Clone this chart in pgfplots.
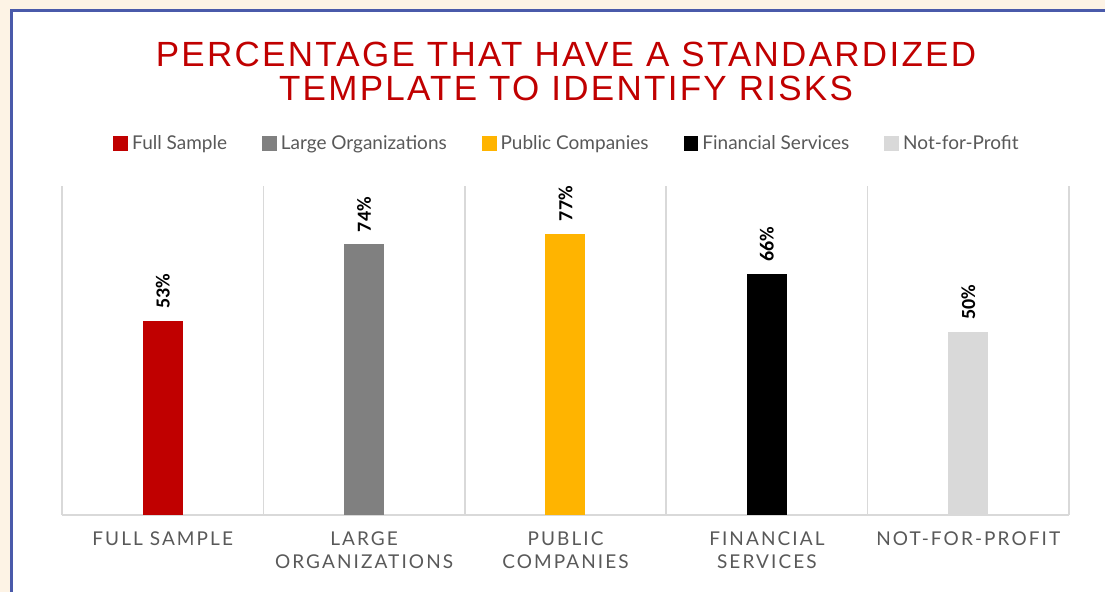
\documentclass[border=0pt]{standalone}
\usepackage{fontspec}
\setmainfont{Lato}
\newfontfamily\titlefont[LetterSpace=6.5]{Liberation Sans}
\newfontfamily\tickfont[LetterSpace=11]{Lato}
\newfontfamily\valfont{Carlito}
\usepackage{pgfplots}
\pgfplotsset{compat=1.18}

\definecolor{fsred}{HTML}{C00000}
\definecolor{lggray}{HTML}{808080}
\definecolor{pcgold}{HTML}{FFB400}
\definecolor{npgray}{HTML}{D9D9D9}
\definecolor{gridgray}{HTML}{D9D9D9}
\definecolor{txtgray}{HTML}{595959}
\definecolor{frameblue}{HTML}{4A5AAA}
\definecolor{bgpeach}{RGB}{253,243,229}

\begin{document}
\begin{tikzpicture}
% page is 1105 x 592 px, 1 px = 0.5 pt, origin top left
\clip (0,0) rectangle (552.5pt,-296pt);
\fill[bgpeach] (0,0) rectangle (552.5pt,-296pt);
\fill[white] (5.5pt,-5.5pt) rectangle (560pt,-300pt);
\draw[frameblue, line width=1.5pt] (5.5pt,-300pt) -- (5.5pt,-5.5pt) -- (560pt,-5.5pt);

\node[anchor=base, text=fsred, font=\titlefont\fontsize{17.5}{20}\selectfont]
  at (283pt,-33.5pt) {PERCENTAGE THAT HAVE A STANDARDIZED};
\node[anchor=base, text=fsred, font=\titlefont\fontsize{17.5}{20}\selectfont]
  at (283pt,-50.5pt) {TEMPLATE TO IDENTIFY RISKS};

\begin{axis}[
  at={(31pt,-257.5pt)}, anchor=south west,
  width=503.5pt, height=164.5pt, scale only axis,
  ybar, bar width=20pt, bar shift=0pt,
  xmin=-0.5, xmax=4.5, ymin=0, ymax=90,
  axis x line*=bottom, hide y axis,
  axis line style={draw=gridgray, line width=0.75pt},
  xtick={0,1,2,3,4},
  xticklabels={FULL SAMPLE,{LARGE\\ORGANIZATIONS},{PUBLIC\\COMPANIES},{FINANCIAL\\SERVICES},NOT-FOR-PROFIT},
  xticklabel style={align=center, text=txtgray, font=\tickfont\fontsize{9.5}{11.5}\selectfont, yshift=-5pt},
  major tick length=0pt,
  minor xtick={-0.5,0.5,1.5,2.5,3.5,4.5},
  xminorgrids, minor tick length=0pt,
  minor grid style={draw=gridgray, line width=0.75pt},
  nodes near coords={\pgfmathprintnumber[assume math mode=true]{\pgfplotspointmeta}\%},
  every node near coord/.append style={rotate=90, anchor=west, inner xsep=6pt,
    text=black, font=\valfont\bfseries\fontsize{10}{12}\selectfont},
  legend columns=5,
  legend style={at={(0.5025,1.128)}, anchor=center, draw=none, fill=none,
    font=\fontsize{9.5}{12}\selectfont, text=txtgray,
    /tikz/every even column/.append style={column sep=15.5pt},
    inner sep=0pt},
  sq/.style={legend image code/.code={\fill[##1] (0pt,-3.7pt) rectangle (7.4pt,3.7pt);}},
]
\addplot[fill=fsred, draw=none, sq] coordinates {(0,53)};
\addlegendentry{Full Sample}
\addplot[fill=lggray, draw=none, sq] coordinates {(1,74)};
\addlegendentry{Large Organizations}
\addplot[fill=pcgold, draw=none, sq] coordinates {(2,77)};
\addlegendentry{Public Companies}
\addplot[fill=black, draw=none, sq] coordinates {(3,66)};
\addlegendentry{Financial Services}
\addplot[fill=npgray, draw=none, sq] coordinates {(4,50)};
\addlegendentry{Not-for-Profit}
\end{axis}
\end{tikzpicture}
\end{document}
